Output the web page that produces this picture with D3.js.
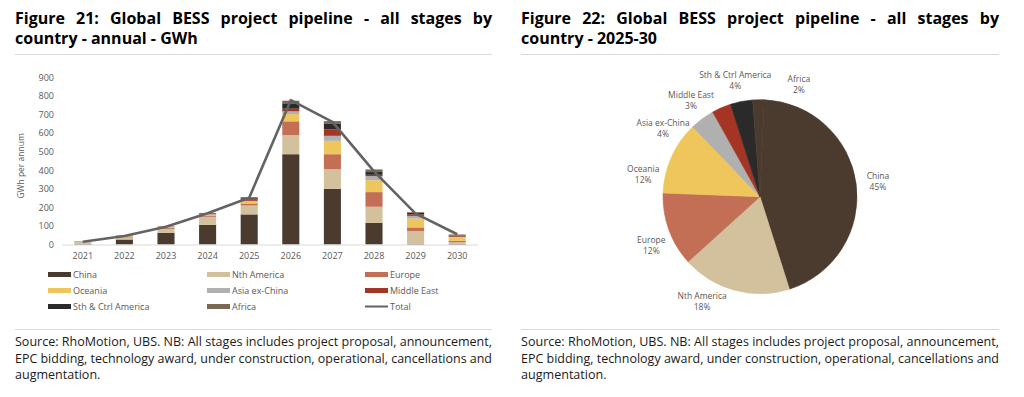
<!DOCTYPE html>
<html>
<head>
  <meta charset="utf-8">
  <title>Global BESS project pipeline</title>
  <script src="https://d3js.org/d3.v7.min.js"></script>
  <style>
    body { margin: 0; background: #fff; }
    text { font-family: "Open Sans", sans-serif; }
    .title { font-weight: bold; font-size: 16px; fill: #000; }
    .tick-label { font-size: 9px; fill: #595959; }
    .legend-label { font-size: 9px; fill: #595959; }
    .pie-label { font-size: 8.5px; fill: #595959; }
    .source { font-size: 12px; fill: #1a1a1a; }
    .rule { stroke: #d9d9d9; stroke-width: 1; }
  </style>
</head>
<body>
  <svg id="chart" width="1024" height="397"></svg>

  <script>
    // categories and series
    const years = ["2021", "2022", "2023", "2024", "2025", "2026", "2027", "2028", "2029", "2030"];
    const regions = ["China", "Nth America", "Europe", "Oceania", "Asia ex-China", "Middle East", "Sth & Ctrl America", "Africa"];
    const regionColors = ["#4b3a2e", "#d3c09c", "#c36f55", "#eec65c", "#b0b0b0", "#a43525", "#2a2a2a", "#7c6752"];

    // GWh per annum
    const china      = [3, 27, 63, 106, 162, 486, 300, 116, 3, 3];
    const nthAmerica = [11, 11, 21, 43, 48, 103, 106, 87, 69, 9];
    const europe     = [2, 4, 6, 7, 11, 74, 80, 79, 20, 8];
    const oceania    = [1, 2, 3, 4, 9, 39, 72, 64, 48, 18];
    const asiaExCn   = [0, 1, 1, 3, 5, 15, 27, 22, 14, 3];
    const middleEast = [0, 1, 1, 2, 7, 14, 35, 7, 9, 4];
    const sthCtrlAm  = [0.5, 1, 1, 3, 7, 29, 32, 15, 7, 3];
    const africa     = [0.5, 1, 1, 2, 6, 14, 12, 14, 4, 6];
    const total      = [15, 46, 95, 168, 252, 777, 660, 394, 166, 55];

    const yTicks = [0, 100, 200, 300, 400, 500, 600, 700, 800, 900];

    // 2025-30 share (%)
    const pieShare = [44.4, 18.2, 12.3, 12.2, 4.1, 3.2, 3.7, 1.9];
    const pieLabels = ["45%", "18%", "12%", "12%", "4%", "3%", "4%", "2%"];
    // Africa is not distinguishable from China in the pie
    const pieColors = ["#4b3a2e", "#d3c09c", "#c36f55", "#eec65c", "#b0b0b0", "#a43525", "#2a2a2a", "#4b3a2e"];
    // label nudges (degrees) as placed by the original "best fit"
    const pieLabelShift = [0, 14, -4, -13, -18, -12, -1, 20];

    const series = [china, nthAmerica, europe, oceania, asiaExCn, middleEast, sthCtrlAm, africa];

    const svg = d3.select("#chart");

    // ---------- titles ----------
    function justifyLine(sel, x0, x1) {
      const w = sel.node().getComputedTextLength();
      const gaps = (sel.text().match(/ /g) || []).length;
      if (gaps) sel.style("word-spacing", ((x1 - x0 - w) / gaps) + "px");
    }

    const titles = [
      { x0: 15, x1: 492, lines: ["Figure 21: Global BESS project pipeline - all stages by", "country - annual - GWh"] },
      { x0: 521, x1: 999, lines: ["Figure 22: Global BESS project pipeline - all stages by", "country - 2025-30"] }
    ];
    titles.forEach(t => {
      t.lines.forEach((ln, i) => {
        const tx = svg.append("text").attr("class", "title")
          .attr("x", t.x0).attr("y", 24 + i * 20).text(ln);
        if (i === 0) justifyLine(tx, t.x0, t.x1);
      });
      svg.append("line").attr("class", "rule")
        .attr("x1", t.x0).attr("x2", t.x1).attr("y1", 54.5).attr("y2", 54.5);
      svg.append("line").attr("class", "rule")
        .attr("x1", t.x0).attr("x2", t.x1).attr("y1", 329.5).attr("y2", 329.5);
    });

    // ---------- source notes ----------
    const sourceLines = [
      "Source: RhoMotion, UBS. NB: All stages includes project proposal, announcement,",
      "EPC bidding, technology award, under construction, operational, cancellations and",
      "augmentation."
    ];
    titles.forEach(t => {
      let ratio = 1;
      sourceLines.forEach((ln, i) => {
        const tx = svg.append("text").attr("class", "source")
          .attr("x", t.x0).attr("y", 346 + i * 16.5).text(ln);
        const w = tx.node().getComputedTextLength();
        if (i === 0) ratio = (t.x1 - t.x0) / w;
        const target = i < 2 ? (t.x1 - t.x0) : w * ratio;
        tx.attr("textLength", target).attr("lengthAdjust", "spacingAndGlyphs");
      });
    });

    // ---------- stacked bar chart ----------
    const x = d3.scaleBand().domain(years).range([62, 478]).paddingInner(0.59).paddingOuter(0.295);
    const y = d3.scaleLinear().domain([0, 900]).range([244.5, 77.3]);

    const tableRows = years.map((yr, i) => {
      const row = { year: yr };
      regions.forEach((r, k) => { row[r] = series[k][i]; });
      return row;
    });
    const stacked = d3.stack().keys(regions)(tableRows);

    const gBars = svg.append("g");
    gBars.selectAll("g.layer")
      .data(stacked)
      .join("g")
      .attr("class", "layer")
      .attr("fill", (d, i) => regionColors[i])
      .selectAll("rect")
      .data(d => d)
      .join("rect")
      .attr("x", d => x(d.data.year))
      .attr("width", x.bandwidth())
      .attr("y", d => y(d[1]))
      .attr("height", d => Math.max(0, y(d[0]) - y(d[1])));

    // y axis labels
    const yAxis = d3.axisLeft(y).tickValues(yTicks).tickSize(0).tickPadding(0);
    svg.append("g").attr("transform", "translate(54,0)").call(yAxis)
      .call(g => g.select(".domain").remove())
      .selectAll("text").attr("class", "tick-label").attr("font-family", null).attr("font-size", null);

    // x axis
    const xAxis = d3.axisBottom(x).tickSize(0).tickPadding(8);
    svg.append("g").attr("transform", `translate(0,${y(0)})`).call(xAxis)
      .call(g => g.select(".domain").attr("stroke", "#d9d9d9").attr("d", "M62,0.5H478"))
      .selectAll("text").attr("class", "tick-label").attr("font-family", null).attr("font-size", null);

    svg.append("text").attr("class", "tick-label")
      .attr("transform", `translate(24,${(y(0) + y(900)) / 2 + 5}) rotate(-90)`)
      .attr("text-anchor", "middle").style("font-size", "8.5px")
      .text("GWh per annum");

    // total line
    const line = d3.line()
      .x((d, i) => x(years[i]) + x.bandwidth() / 2)
      .y(d => y(d));
    svg.append("path").datum(total)
      .attr("fill", "none").attr("stroke", "#636363").attr("stroke-width", 2.6)
      .attr("stroke-linejoin", "round")
      .attr("d", line);

    // legend
    const legendItems = regions.map((r, i) => ({ name: r, color: regionColors[i], type: "bar" }))
      .concat([{ name: "Total", color: "#636363", type: "line" }]);
    const legendCols = [48, 207, 365];
    const legendRows = [274.5, 290.5, 306.5];
    const lg = svg.append("g").selectAll("g").data(legendItems).join("g")
      .attr("transform", (d, i) => `translate(${legendCols[i % 3]},${legendRows[Math.floor(i / 3)]})`);
    lg.append("rect")
      .attr("x", 0).attr("width", 23)
      .attr("y", d => d.type === "bar" ? -2.5 : -1)
      .attr("height", d => d.type === "bar" ? 5 : 2)
      .attr("fill", d => d.color);
    lg.append("text").attr("class", "legend-label")
      .attr("x", 25).attr("dy", "0.35em").text(d => d.name);

    // ---------- pie ----------
    const cx = 760, cy = 196.7, radius = 97;
    const a0 = 2.5 * Math.PI / 180;
    const pie = d3.pie().sort(null).startAngle(a0).endAngle(a0 + 2 * Math.PI);
    const arcs = pie(pieShare);
    const arc = d3.arc().innerRadius(0).outerRadius(radius);

    const gPie = svg.append("g").attr("transform", `translate(${cx},${cy})`);
    gPie.selectAll("path").data(arcs).join("path")
      .attr("d", arc)
      .attr("fill", (d, i) => pieColors[i])
      .attr("stroke", (d, i) => pieColors[i])
      .attr("stroke-width", 0.6)
      .attr("stroke-linejoin", "round");

    const labelR = 119;
    const pl = gPie.selectAll("g.pl").data(arcs).join("g").attr("class", "pl")
      .attr("transform", (d, i) => {
        const a = (d.startAngle + d.endAngle) / 2 + pieLabelShift[i] * Math.PI / 180;
        return `translate(${labelR * Math.sin(a)},${-labelR * Math.cos(a)})`;
      });
    pl.append("text").attr("class", "pie-label").attr("text-anchor", "middle")
      .attr("y", -2).text((d, i) => regions[i]);
    pl.append("text").attr("class", "pie-label").attr("text-anchor", "middle")
      .attr("y", 9).text((d, i) => pieLabels[i]);
  </script>
</body>
</html>
